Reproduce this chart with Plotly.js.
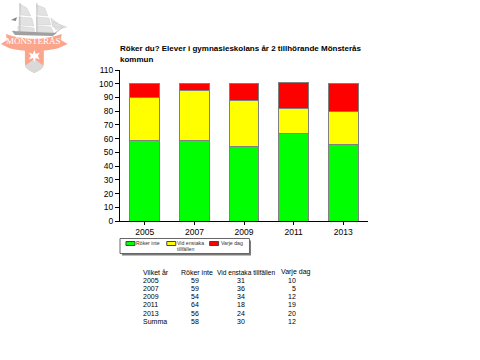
<!DOCTYPE html>
<html><head><meta charset="utf-8">
<script src="https://cdn.plot.ly/plotly-3.0.1.min.js"></script>
<style>html,body{margin:0;padding:0;background:#fff}#c{width:480px;height:360px}</style>
</head><body><div id="c"></div>
<script>
const years = ['2005','2007','2009','2011','2013'];
const rokerInte = [59,59,54,64,56];
const vidEnstaka = [31,36,34,18,24];
const varjeDag = [10,5,12,19,20];
const seriesNames = ['Röker inte','Vid enstaka<br>tillfällen','Varje dag'];
const seriesColors = ['#00ff00','#ffff00','#ff0000'];
const tableHeader = ['Vilket år','Röker inte','Vid enstaka tillfällen','Varje dag'];
const tableRows = [
 ['2005','59','31','10'],
 ['2007','59','36','5'],
 ['2009','54','34','12'],
 ['2011','64','18','19'],
 ['2013','56','24','20'],
 ['Summa','58','30','12']
];
const W=480,H=360,L=119.5,R=368.5,T=70,B=221;
const px=(x,y)=>({x:(x-L)/(R-L),y:(B-y)/(B-T)});
const line={color:'#808080',width:1};
const traces=[rokerInte,vidEnstaka,varjeDag].map((v,i)=>({type:'bar',name:seriesNames[i],x:years,y:v,marker:{color:seriesColors[i],line}}));
const ann=[];
function txt(s,x,y,size,anchor,extra){const p=px(x,y);ann.push(Object.assign({text:s,xref:'paper',yref:'paper',x:p.x,y:p.y,xanchor:anchor,yanchor:'middle',showarrow:false,font:{family:'Liberation Sans',size,color:'#000'},borderpad:0,borderwidth:0},extra||{}));}
txt('<b>Röker du? Elever i gymnasieskolans år 2 tillhörande Mönsterås</b>',119,49,8,'left');
txt('<b>kommun</b>',119,59,8,'left');
const hx=[[143,'left',7],[181,'left',7],[246.5,'center',6.6],[281,'left',7]];
tableHeader.forEach((h,i)=>txt(h,hx[i][0],272,hx[i][2],hx[i][1]));
const cx=[[143,'left'],[195,'center'],[241,'center'],[296,'right']];
tableRows.forEach((r,j)=>r.forEach((v,i)=>txt(v,cx[i][0],280.2+j*8.2,7,cx[i][1])));
txt('MÖNSTERÅS',33,41,9,'center',{font:{family:'Liberation Serif',size:9,color:'#fff'}});
const logo=`<svg xmlns="http://www.w3.org/2000/svg" width="70" height="76" viewBox="0 0 70 76">
<g fill="#e2e2e2" stroke="#c4c4c4" stroke-width=".4">
<path d="M19 4 L26 8 L30 16 L20 15Z M18 17 L31 18 L33 26 L18 25Z M17 26 L33 28 L34 33 L17 32Z"/>
<path d="M36 5 L44 8 L47 16 L37 15Z M36 17 L48 18 L50 25 L36 25Z M36 26 L50 27 L53 33 L36 32Z"/>
<path d="M50 18 L62 27 L52 27Z M52 22 L66 27 L55 30Z"/></g>
<path d="M12 30 L17 34 H52 L64 26 L54 34 C50 33 20 36 14 34Z" fill="#b4b4b4"/>
<path d="M11 31 L56 33 L52 36 L14 35Z" fill="#a0a0a0"/>
<path d="M19 3V33M36 3V33" stroke="#aaa" stroke-width=".7"/>
<path d="M10 20 L16 17 L15 21Z" fill="#888"/>
<path d="M0 44 L6 40 L5 34 C20 40 45 40 61 34 L60 40 L67 44 L58 48 C45 52 20 52 8 48Z" fill="#fba58c"/>
<path d="M24 49 H43 V63 C43 69 37 71 33.500 73 C30 71 24 69 24 63Z" fill="#fba58c"/>
<path d="M24 66 L33.500 59 L43 66 C41 70 37 71 33.500 73 C30 71 26 70 24 66Z" fill="#d9d9d9"/>
<path d="M33.500 50 L35 54 L39 52.500 L37 56 L39 59.500 L35 58 L33.500 62 L32 58 L28 59.500 L30 56 L28 52.500 L32 54Z" fill="#fff"/>
</svg>`;
const rect=(x0,y0,x1,y1,fill,lc)=>{const a=px(x0,y1),b=px(x1,y0);return {type:'rect',xref:'paper',yref:'paper',x0:a.x,x1:b.x,y0:a.y,y1:b.y,fillcolor:fill,line:lc?{color:lc,width:1}:{width:0},layer:'above'};};
const shapes=[rect(121.5,240.5,251,255.5,'#7a7a7a'),rect(119.5,238.5,249.5,253.5,'#fff','#666')];
const swatchX=[125.5,166.5,209.5], labelX=[136,177,221];
seriesNames.forEach((n,i)=>{
 shapes.push(rect(swatchX[i],241.5,swatchX[i]+9,245.5,seriesColors[i],'#444'));
 const lines=n.split('<br>');
 lines.forEach((l,k)=>txt(l,labelX[i],243+k*5.8,5.2,'left',{font:{family:'Liberation Sans',size:5.2,color:'#333'}}));
});
const im=px(0,0), ims=px(70,76);
const layout={
 width:W,height:H,barmode:'stack',bargap:0.4,showlegend:false,
 paper_bgcolor:'#fff',plot_bgcolor:'#fff',
 margin:{l:L,r:W-R,t:T,b:H-B,pad:0},
 font:{family:'Liberation Sans',color:'#000',size:8.5},
 xaxis:{type:'category',categoryorder:'array',categoryarray:years,showgrid:false,zeroline:false,showline:true,linecolor:'#000',linewidth:1,ticks:'outside',ticklen:3,tickcolor:'#000',tickwidth:1,tickfont:{size:8.5},automargin:false},
 yaxis:{range:[0,110],tick0:0,dtick:10,showgrid:false,zeroline:false,showline:true,linecolor:'#000',linewidth:1,ticks:'outside',ticklen:4,tickcolor:'#000',tickwidth:1,tickfont:{size:8.5},automargin:false},
 shapes,
 annotations:ann,
 images:[{source:'data:image/svg+xml;base64,'+btoa(logo),xref:'paper',yref:'paper',x:im.x,y:im.y,sizex:ims.x-im.x,sizey:im.y-ims.y,sizing:'stretch',xanchor:'left',yanchor:'top',layer:'below'}]
};
Plotly.newPlot('c',traces,layout,{displayModeBar:false,staticPlot:true});
</script></body></html>
